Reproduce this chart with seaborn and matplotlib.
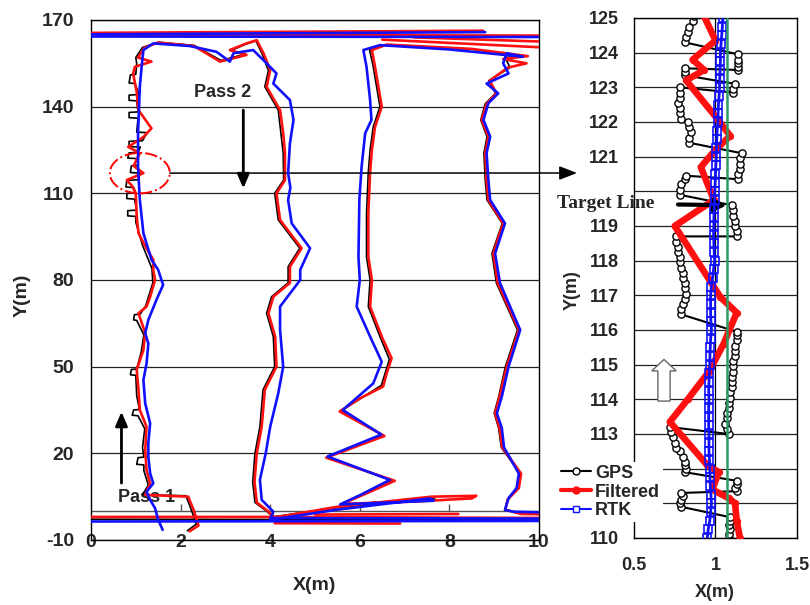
import numpy as np
import pandas as pd
import matplotlib
matplotlib.use("Agg")
import matplotlib.pyplot as plt
import seaborn as sns
from matplotlib.patches import Ellipse, FancyArrow
from matplotlib.lines import Line2D

# ---------------- Left panel: whole field (x, y in metres) ----------------
RTK_MAIN = [(1.60,-6.5),(1.50,-3.0),(1.43,1.0),(1.32,3.9),(1.24,6.7),(1.39,9.6),(1.32,13.1),(1.28,18.8),
            (1.28,23.5),(1.32,30.4),(1.21,37.3),(1.17,45.4),(1.24,51.1),(1.28,58.0),(1.21,61.6),(1.28,66.2),
            (1.46,73.1),(1.61,78.3),(1.50,83.5),(1.35,87.0),(1.17,96.2),(1.09,107.7),(1.05,119.2),(1.05,130.8),
            (1.09,146.9),(1.13,153.8),(1.17,159.6),(1.39,161.9),
            (2.20,161.0),(2.80,159.0),(3.10,155.6),(3.18,158.5),(3.62,159.6),(3.92,155.0),(4.14,151.5),(4.07,148.0),
            (4.44,142.3),(4.52,135.4),(4.44,127.3),(4.40,117.0),(4.45,112.0),(4.40,107.7),(4.48,99.6),(4.89,91.0),
            (4.67,83.5),(4.67,80.0),(4.22,70.8),(4.22,62.7),(4.29,50.0),(4.18,40.8),(4.00,29.2),(3.90,20.0),
            (3.77,10.8),(3.81,3.9),(4.07,-0.2),(4.00,-3.0),
            (5.50,0.5),(7.57,4.4),(7.65,3.6),(5.56,2.3),(6.00,5.5),(6.67,10.8),(5.28,18.9),(6.48,26.5),(5.62,35.0),
            (6.30,44.2),(6.49,51.7),(6.23,60.4),(5.93,70.8),(6.00,80.0),(5.97,88.0),(5.99,107.7),(6.04,119.2),
            (6.12,130.8),(6.26,135.4),(6.23,142.3),(6.15,153.8),(6.08,159.6),
            (6.45,161.3),(8.00,159.8),(9.64,157.3),(9.28,158.5),(9.20,155.0),(9.32,151.5),(8.83,148.0),(9.09,144.6),
            (8.87,141.2),(8.76,135.4),(8.91,129.6),(8.83,123.9),(8.87,114.6),(8.91,107.7),(9.24,99.6),(9.02,89.2),
            (9.13,78.9),(9.58,62.7),(9.32,50.0),(9.17,39.6),(9.06,33.9),(9.17,28.7),(9.22,22.0),(9.55,13.0),
            (9.50,8.0),(9.32,4.5),(9.24,0.4),(9.43,-0.2),(10.5,-0.6)]
RTK_TOP_A = [(-0.5,165.0),(8.8,165.8)]
RTK_TOP_B = [(-0.5,164.3),(10.5,164.1)]
RTK_BOT_A = [(10.5,-3.4),(-0.5,-3.6)]
RTK_BOT_B = [(10.5,-2.6),(4.0,-2.4)]

FILT_MAIN = [(2.20,-7.0),(2.40,-5.0),(2.30,0.0),(2.17,5.0),(1.21,5.6),(1.32,9.6),(1.24,14.2),(1.21,21.0),
             (1.24,29.2),(1.09,35.0),(1.06,42.0),(1.02,48.9),(1.17,55.8),(1.21,61.6),(1.06,68.5),(1.24,70.8),
             (1.32,74.2),(1.43,80.0),(1.39,83.5),(1.39,87.0),(1.20,92.0),(1.06,96.2),(1.02,102.0),(1.00,110.0),
             (0.92,112.5),(0.80,114.6),(1.17,117.0),(0.95,119.5),(1.09,123.9),(0.83,126.1),(1.17,129.5),
             (1.35,132.5),(1.06,138.8),(1.02,145.0),(0.94,151.5),(0.98,153.8),(1.35,155.6),(1.05,157.0),
             (1.20,160.5),(1.50,162.2),
             (2.30,161.0),(2.88,155.6),(3.47,157.9),(3.10,159.6),(3.47,161.9),(3.70,163.0),(3.85,158.5),
             (4.00,152.7),(3.92,146.9),(4.22,138.8),(4.29,130.8),(4.33,123.9),(4.33,114.6),(4.14,110.0),
             (4.22,100.8),(4.70,91.0),(4.44,84.6),(4.44,79.0),(4.07,74.2),(3.96,68.5),(4.11,60.4),(4.14,50.0),
             (3.88,42.0),(3.81,29.2),(3.70,20.0),(3.65,10.0),(3.70,3.0),(3.95,0.0),(4.10,-2.2),
             (5.50,1.5),(7.60,5.0),(8.60,5.3),(8.50,4.4),(7.20,3.3),(5.60,2.5),(6.10,5.8),(6.78,10.5),(5.25,18.5),
             (6.55,26.0),(5.55,34.5),(6.00,39.0),(6.52,43.1),(6.60,47.7),(6.71,52.9),(6.49,60.4),(6.23,70.8),
             (6.27,80.0),(6.19,88.0),(6.19,103.0),(6.23,117.3),(6.27,125.0),(6.34,133.0),(6.49,140.0),
             (6.34,153.8),(6.27,159.6),
             (6.60,161.5),(8.50,160.0),(9.75,157.5),(9.20,156.5),(9.72,155.0),(9.30,153.5),(8.90,149.0),
             (9.05,144.6),(8.83,141.0),(8.72,135.4),(8.87,129.6),(8.80,123.9),(8.83,114.6),(8.87,107.7),
             (9.20,99.6),(8.98,89.2),(9.08,78.9),(9.55,62.7),(9.28,50.0),(9.12,39.6),(9.02,33.9),(9.12,28.7),
             (9.18,22.0),(9.60,13.0),(9.55,8.0),(9.30,4.0),(9.25,0.5),(9.60,-1.0),(10.5,-1.2)]
FILT_TOP_A = [(-0.5,165.5),(8.75,166.3)]
FILT_TOP_B = [(-0.5,164.9),(10.5,164.6)]
FILT_FAN_A = [(6.5,163.2),(10.5,160.2)]
FILT_FAN_B = [(7.2,164.0),(10.5,162.3)]
FILT_BOT_A = [(-0.5,-2.0),(4.0,-2.0),(10.5,-2.4)]
FILT_BOT_B = [(4.1,-4.2),(6.9,-4.3)]
FILT_BOT_C = [(5.0,-1.2),(8.2,-1.0)]

GPS_MAIN = [(2.15,-6.8),(2.35,-4.5),(2.25,0.0),(2.12,5.3),(1.15,5.7),(1.28,9.0),(1.18,14.0),(1.18,16.0),
            (1.02,16.2),(1.05,18.5),(1.18,18.7),(1.15,22.0),(1.20,28.5),(1.05,33.0),(0.92,33.2),(0.95,35.0),
            (1.08,35.2),(1.02,40.0),(1.00,47.0),(0.88,47.2),(0.90,49.0),(1.02,49.2),(1.12,55.0),(1.18,61.0),
            (1.02,66.0),(0.95,66.2),(0.97,68.0),(1.10,68.2),(1.22,71.0),(1.38,79.0),(1.36,84.0),(1.15,92.0),
            (1.00,100.0),(1.00,102.0),(0.82,102.2),(0.82,104.0),(1.02,104.2),(0.97,108.0),(0.80,108.2),
            (0.80,110.0),(1.00,110.2),(0.95,112.0),(0.78,112.2),(0.80,114.5),(1.05,114.7),(1.10,117.0),
            (0.88,117.2),(0.90,119.5),(1.05,119.7),(1.05,122.0),(0.82,122.2),(0.85,124.0),(1.05,124.2),
            (1.10,126.0),(0.85,126.2),(0.85,128.0),(1.15,128.2),(1.25,131.0),(1.02,131.2),(1.05,136.0),
            (0.85,136.2),(0.85,138.0),(1.05,138.2),(1.02,142.0),(0.85,142.2),(0.85,144.0),(1.08,144.2),
            (0.98,148.0),(0.85,148.2),(0.88,151.0),(1.00,151.2),(1.02,155.0),(1.00,157.0),(1.15,160.5),
            (1.50,162.3),
            (2.30,161.2),(2.90,156.0),(3.45,158.2),(3.12,159.4),(3.45,161.6),(3.68,162.8),(3.82,158.3),
            (3.96,152.5),(3.88,146.9),(4.18,138.8),(4.24,130.8),(4.29,123.9),(4.30,114.6),(4.10,110.0),
            (4.18,100.8),(4.66,91.0),(4.40,84.6),(4.40,79.0),(4.03,74.2),(3.92,68.5),(4.07,60.4),(4.10,50.0),
            (3.84,42.0),(3.77,29.2),(3.66,20.0),(3.61,10.0),(3.66,3.0),(3.92,0.0),(4.06,-2.0),
            (5.50,1.2),(7.55,4.6),(7.70,4.0),(5.60,2.4),(6.05,5.6),(6.74,10.6),(5.27,18.7),(6.52,26.2),
            (5.58,34.7),(6.02,39.0),(6.48,43.5),(6.66,52.5),(6.45,60.4),(6.19,70.8),(6.23,80.0),(6.15,88.0),
            (6.15,103.0),(6.19,117.3),(6.23,125.0),(6.30,133.0),(6.45,140.0),(6.30,153.8),(6.22,159.6),
            (6.60,161.4),(8.50,159.9),(9.65,157.6),(9.25,157.0),(9.35,153.5),(8.88,149.0),(9.03,144.6),
            (8.80,141.0),(8.70,135.4),(8.84,129.6),(8.77,123.9),(8.80,114.6),(8.84,107.7),(9.18,99.6),
            (8.95,89.2),(9.05,78.9),(9.52,62.7),(9.25,50.0),(9.10,39.6),(9.00,33.9),(9.10,28.7),(9.16,22.0),
            (9.58,13.0),(9.55,8.0),(9.30,4.0),(9.24,0.5),(9.55,-0.8),(10.5,-1.0)]
GPS_TOP_A = [(-0.5,165.3),(8.7,166.0)]
GPS_BOT_A = [(-0.5,-2.8),(10.5,-3.0)]

# ---------------- Right panel: zoom on 110-125 m of pass 1 ----------------
GPS_ZOOM = [(1.08,110.0),(1.08,110.12),(1.09,110.25),(1.08,110.38),(1.09,110.5),(1.09,110.6),
            (0.79,110.9),(0.78,111.0),(0.79,111.1),(0.80,111.2),(0.79,111.3),
            (1.13,111.35),(1.12,111.45),(1.13,111.55),(1.13,111.65),
            (0.81,111.9),(0.82,112.0),(0.81,112.1),(0.81,112.2),(0.80,112.35),(0.78,112.5),(0.76,112.6),
            (0.75,112.75),(0.74,112.9),(0.73,113.05),(0.72,113.2),
            (1.08,113.0),(1.07,113.15),(1.06,113.3),(1.07,113.45),(1.07,113.6),(1.08,113.75),(1.08,113.9),
            (1.09,114.05),(1.09,114.2),(1.10,114.35),(1.10,114.5),(1.10,114.65),(1.11,114.8),(1.11,114.95),
            (1.11,115.1),(1.12,115.25),(1.12,115.4),(1.12,115.55),(1.13,115.7),(1.13,115.85),(1.13,115.95),
            (0.79,116.45),(0.79,116.6),(0.80,116.75),(0.81,116.9),(0.82,117.05),(0.81,117.2),(0.81,117.35),
            (0.80,117.5),(0.80,117.65),(0.79,117.8),(0.78,117.95),(0.78,118.1),(0.77,118.25),(0.77,118.4),
            (0.76,118.55),(0.76,118.7),
            (1.13,118.7),(1.13,118.85),(1.12,119.0),(1.12,119.15),(1.11,119.3),(1.11,119.45),(1.10,119.6),
            (0.78,119.9),(0.78,120.05),(0.79,120.2),(0.81,120.35),(0.82,120.45),
            (1.14,120.35),(1.14,120.5),(1.15,120.65),(1.15,120.8),(1.15,120.95),(1.16,121.1),
            (0.84,121.4),(0.84,121.55),(0.85,121.7),(0.84,121.85),(0.83,122.0),(0.79,122.1),(0.78,122.25),
            (0.78,122.4),(0.77,122.55),(0.78,122.7),(0.78,122.85),(0.78,123.0),
            (1.11,122.85),(1.11,122.95),(1.12,123.1),
            (0.81,123.35),(0.81,123.45),(0.81,123.55),
            (1.14,123.5),(1.14,123.6),(1.14,123.7),(1.14,123.8),(1.14,123.95),
            (0.81,124.3),(0.82,124.45),(0.83,124.6),(0.84,124.75),(0.86,124.9),(0.87,125.05),(0.88,125.2)]
FILT_ZOOM = [(1.15,110.0),(1.13,110.5),(1.12,111.0),(1.08,111.15),(0.98,111.4),(1.02,111.9),(0.95,112.1),
             (0.72,113.35),(0.83,114.0),(0.96,114.8),(1.05,115.6),(1.13,116.5),(1.03,116.95),(0.75,119.0),
             (0.99,119.75),(0.91,120.7),(1.00,121.2),(1.09,121.6),(1.01,122.1),(0.82,123.2),(0.93,123.5),
             (0.86,123.8),(1.00,124.35),(0.92,125.15)]
RTK_ZOOM_Y = [110.0,110.25,110.5,110.75,111.0,111.25,111.5,111.75,112.0,112.25,112.5,112.75,113.0,113.25,
              113.5,113.75,114.0,114.25,114.5,114.75,115.0,115.25,115.5,115.75,116.0,116.25,116.5,116.75,
              117.0,117.25,117.5,117.75,118.0,118.25,118.5,118.75,119.0,119.25,119.5,119.75,120.0,120.25,
              120.5,120.75,121.0,121.25,121.5,121.75,122.0,122.25,122.5,122.75,123.0,123.25,123.5,123.75,
              124.0,124.25,124.5,124.75,125.0]
RTK_ZOOM_X = [0.950,0.955,0.965,0.970,0.975,0.972,0.968,0.966,0.965,0.963,0.960,0.960,0.960,0.958,
              0.958,0.958,0.960,0.958,0.960,0.962,0.965,0.966,0.968,0.970,0.975,0.972,0.970,0.970,
              0.970,0.975,0.982,0.988,0.995,0.992,0.990,0.988,0.990,0.990,0.992,0.994,0.995,0.998,
              1.000,1.002,1.005,1.006,1.008,1.010,1.015,1.016,1.018,1.022,1.025,1.026,1.028,1.030,
              1.030,1.034,1.038,1.042,1.045]
TARGET_X = 1.07

LEFT_XTICKS = [0, 2, 4, 6, 8, 10]
LEFT_YTICKS = [-10, 20, 50, 80, 110, 140, 170]
RIGHT_XTICKS = [0.5, 1.0, 1.5]
RIGHT_XLABELS = ["0.5", "1", "1.5"]
RIGHT_YTICKS = list(range(110, 126))
# labels 111, 112 (legend) and 120 ("Target Line") are covered in the original
RIGHT_YLABELS = ["110", "", "", "113", "114", "115", "116", "117", "118", "119", "", "121",
                 "122", "123", "124", "125"]


def frame(segments):
    rows = []
    for k, seg in enumerate(segments):
        for x, y in seg:
            rows.append((k, x, y))
    return pd.DataFrame(rows, columns=["seg", "x", "y"])


sns.set_theme(style="white")
SANS = ["Liberation Sans", "DejaVu Sans"]
plt.rcParams["font.family"] = SANS
plt.rcParams["font.weight"] = "bold"
plt.rcParams["axes.unicode_minus"] = False

fig = plt.figure(figsize=(8.1, 6.05), dpi=100)
ax1 = fig.add_axes([91/810, 1-540/605, 448/810, 520/605])
ax2 = fig.add_axes([634/810, 1-538/605, 163/810, 520/605])

# ---- left panel ----
ax1.set_xlim(0, 10)
ax1.set_ylim(-10, 170)
for yv in LEFT_YTICKS:
    ax1.axhline(yv, color="#222222", lw=0.9, zorder=0.5)
ax1.axhline(0, color="#555555", lw=1.0, zorder=0.5)
ax1.vlines(LEFT_XTICKS[1:-1], 0, 2.3, color="#555555", lw=1.0, zorder=0.5)

gps_df = frame([GPS_MAIN, GPS_TOP_A, GPS_BOT_A])
filt_df = frame([FILT_MAIN, FILT_TOP_A, FILT_TOP_B, FILT_FAN_A, FILT_FAN_B, FILT_BOT_A, FILT_BOT_B, FILT_BOT_C])
rtk_df = frame([RTK_MAIN, RTK_TOP_A, RTK_TOP_B, RTK_BOT_A, RTK_BOT_B])
sns.lineplot(data=gps_df, x="x", y="y", units="seg", estimator=None, sort=False,
             color="black", lw=1.2, ax=ax1, legend=False, zorder=2)
sns.lineplot(data=filt_df, x="x", y="y", units="seg", estimator=None, sort=False,
             color="#ff1010", lw=1.9, ax=ax1, legend=False, zorder=3)
sns.lineplot(data=rtk_df, x="x", y="y", units="seg", estimator=None, sort=False,
             color="#1010ff", lw=1.9, ax=ax1, legend=False, zorder=4)

ax1.set_xticks(LEFT_XTICKS)
ax1.set_yticks(LEFT_YTICKS)
ax1.tick_params(axis="y", length=0, pad=12, labelsize=14)
ax1.tick_params(axis="x", length=0, pad=-4.5, labelsize=14)
ax1.grid(False)
for s in ax1.spines.values():
    s.set_color("black"); s.set_linewidth(1.0); s.set_visible(True)
ax1.set_xlabel("X(m)", fontsize=14, fontweight="bold")
ax1.set_ylabel("Y(m)", fontsize=14, fontweight="bold")
ax1.xaxis.set_label_coords(0.5, -0.072)
ax1.yaxis.set_label_coords(-0.134, 0.471)

ax1.text(2.94, 144.9, "Pass 2", ha="center", va="center", fontsize=13, fontweight="bold",
         family=SANS, zorder=1)
ax1.annotate("", xy=(3.4, 111.7), xytext=(3.4, 138.8),
             arrowprops=dict(arrowstyle="-|>,head_length=0.7,head_width=0.3", lw=2, color="black",
                             shrinkA=0, shrinkB=0))
ax1.text(1.23, 4.7, "Pass 1", ha="center", va="center", fontsize=13, fontweight="bold",
         family=SANS, zorder=1)
ax1.annotate("", xy=(0.68, 34.4), xytext=(0.68, 9.7),
             arrowprops=dict(arrowstyle="-|>,head_length=0.7,head_width=0.3", lw=2, color="black",
                             shrinkA=0, shrinkB=0))
ax1.add_patch(Ellipse((1.09, 117.0), 1.34, 14.0, fill=False, ec="red", ls="-.", lw=1.4, zorder=5))
ax1.annotate("", xy=(577/810, 1-173/605), xycoords="figure fraction",
             xytext=(1.76, 117.0), textcoords="data", annotation_clip=False,
             arrowprops=dict(arrowstyle="-|>,head_length=0.9,head_width=0.35", lw=1.1, color="black",
                             shrinkA=0, shrinkB=0))

# ---- right panel ----
ax2.set_xlim(0.5, 1.5)
ax2.set_ylim(110, 125)
for yv in RIGHT_YTICKS:
    ax2.axhline(yv, color="#222222", lw=0.9, zorder=0.5)
ax2.axvline(1.0, color="black", lw=0.9, zorder=0.5)

sns.lineplot(x=[p[0] for p in GPS_ZOOM], y=[p[1] for p in GPS_ZOOM], sort=False, estimator=None,
             color="black", lw=1.5, marker="o", markersize=5.2, markerfacecolor="white",
             markeredgecolor="black", markeredgewidth=1.0, ax=ax2, zorder=2)
sns.lineplot(x=[p[0] for p in FILT_ZOOM], y=[p[1] for p in FILT_ZOOM], sort=False, estimator=None,
             color="#ff1010", lw=4.8, marker="o", markersize=4.5, markerfacecolor="#ff1010",
             markeredgecolor="#ff1010", ax=ax2, zorder=3)
sns.lineplot(x=RTK_ZOOM_X, y=RTK_ZOOM_Y, sort=False, estimator=None,
             color="#1010ff", lw=2.0, marker="s", markersize=5.6, markerfacecolor="none",
             markeredgecolor="#1010ff", markeredgewidth=1.2, ax=ax2, zorder=4)
ax2.axvline(TARGET_X, color="#2e9a62", lw=1.8, zorder=6)

ax2.set_xticks(RIGHT_XTICKS)
ax2.set_xticklabels(RIGHT_XLABELS)
ax2.set_yticks(RIGHT_YTICKS)
ax2.set_yticklabels(RIGHT_YLABELS)
ax2.tick_params(axis="y", length=0, pad=11, labelsize=13)
ax2.tick_params(axis="x", length=0, pad=14, labelsize=13)
ax2.grid(False)
for s in ax2.spines.values():
    s.set_color("black"); s.set_linewidth(1.0); s.set_visible(True)
ax2.set_xlabel("X(m)", fontsize=13, fontweight="bold")
ax2.set_ylabel("Y(m)", fontsize=13, fontweight="bold")
ax2.xaxis.set_label_coords(0.497, -0.088)
ax2.yaxis.set_label_coords(-0.33, 0.477)

ax2.add_patch(FancyArrow(0.684, 113.95, 0, 1.2, width=0.075, head_width=0.15, head_length=0.33,
                         length_includes_head=True, fc="white", ec="#666666", lw=1.0, zorder=5))
ax2.annotate("", xy=(TARGET_X, 119.6), xytext=(0.77, 119.62), annotation_clip=False,
             arrowprops=dict(arrowstyle="-|>,head_length=0.6,head_width=0.3", lw=3, color="black",
                             shrinkA=0, shrinkB=0))
fig.text(606/810, 1-203/605, "Target Line", family=["Liberation Serif", "DejaVu Serif"],
         fontweight="bold", fontsize=14, ha="center", va="center")

handles = [Line2D([], [], color="black", lw=1.5, marker="o", ms=5, mfc="white", mec="black"),
           Line2D([], [], color="#ff1010", lw=3, marker="o", ms=5, mfc="#ff1010", mec="#ff1010"),
           Line2D([], [], color="#1010ff", lw=1.5, marker="s", ms=5, mfc="white", mec="#1010ff")]
fig.legend(handles, ["GPS", "Filtered", "RTK"], loc="upper left",
           bbox_to_anchor=(558/810, 1-462/605), bbox_transform=fig.transFigure,
           prop=dict(size=13, weight="bold", family=SANS), handlelength=1.7, handletextpad=0.2,
           labelspacing=0.1, borderpad=0.15, borderaxespad=0, frameon=True,
           facecolor="white", edgecolor="none", framealpha=1, fancybox=False)

fig.savefig("out.png", dpi=100)
